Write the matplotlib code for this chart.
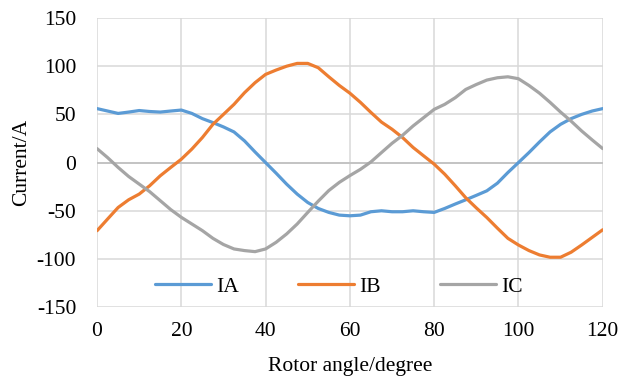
import matplotlib.pyplot as plt

plt.rcParams['font.family'] = ['Liberation Serif', 'DejaVu Serif']
plt.rcParams['axes.unicode_minus'] = False

# Rotor angle (degree) and phase currents (A), read every 2.5 degrees
angle = [0, 2.5, 5, 7.5, 10, 12.5, 15, 17.5, 20, 22.5, 25, 27.5, 30,
         32.5, 35, 37.5, 40, 42.5, 45, 47.5, 50, 52.5, 55, 57.5, 60,
         62.5, 65, 67.5, 70, 72.5, 75, 77.5, 80, 82.5, 85, 87.5, 90,
         92.5, 95, 97.5, 100, 102.5, 105, 107.5, 110, 112.5, 115, 117.5, 120]
ia = [56, 53.5, 51, 52.4, 54, 53, 52.4, 53.5, 54.5, 51, 45.6, 41.5, 37,
      31.8, 22.5, 11, 0, -11, -22.4, -32.7, -41.4, -47.6, -51.7, -54.5, -55.2,
      -54.5, -51, -50, -51, -51, -50, -51, -51.7, -47.6, -43, -38.6, -34,
      -29.3, -21.4, -10.3, 0, 10.4, 21.4, 31.8, 39.7, 45.6, 50, 53.5, 56]
ib = [-70.7, -58.6, -46.6, -38.6, -32.7, -24, -13.7, -5, 3.5, 14, 26, 39.7, 50,
      60.4, 72.5, 82.9, 91.5, 96, 100, 102.9, 102.9, 98.4, 89, 80, 72,
      62.5, 52, 42, 34.6, 26, 15.7, 7, -1.6, -12, -24, -36.5, -47,
      -57, -68, -78.6, -85.5, -91.3, -95.8, -98.2, -98.2, -93, -85.5, -77.6, -69.7]
ic = [14.5, 5.2, -5, -14.4, -22.3, -30.2, -39.5, -48.8, -56.8, -63.7, -70.6, -78.6, -85,
      -89.6, -91.3, -92.4, -89.6, -82.7, -74, -63.7, -51.7, -40, -29, -20.5, -13.5,
      -7, 0.7, 10.4, 20, 28.3, 38, 46.6, 55.2, 60.4, 67.3, 75.9, 81,
      85.6, 88, 89, 87, 80, 72, 62.5, 52.4, 43, 32.8, 23.5, 14.5]

fig = plt.figure(figsize=(6.22, 3.83), dpi=100)
ax = fig.add_axes([0.156, 0.198, 0.813, 0.755])

ax.plot(angle, ia, color='#5B9BD5', lw=2.3, label='IA', solid_capstyle='round')
ax.plot(angle, ib, color='#ED7D31', lw=2.3, label='IB', solid_capstyle='round')
ax.plot(angle, ic, color='#A5A5A5', lw=2.3, label='IC', solid_capstyle='round')

ax.set_xlim(0, 120)
ax.set_ylim(-150, 150)
ax.set_xticks(range(0, 121, 20))
ax.set_yticks(range(-150, 151, 50))
ax.grid(True, color='#d9d9d9', lw=1.1)
ax.axhline(0, color='#bfbfbf', lw=1.2, zorder=1)
ax.set_axisbelow(True)
for s in ax.spines.values():
    s.set_visible(False)
ax.tick_params(length=0, labelsize=15.5)
ax.tick_params(axis='y', pad=15)
ax.tick_params(axis='x', pad=11)

ax.set_xlabel('Rotor angle/degree', fontsize=15.5, labelpad=11)
ax.set_ylabel('Current/A', fontsize=15.5, labelpad=4)

ax.legend(loc='center', bbox_to_anchor=(0.478, 0.07), ncol=3, frameon=False,
          fontsize=15.5, handlelength=2.6, handletextpad=0.25, columnspacing=2.75)

fig.savefig('out.png', dpi=100)
